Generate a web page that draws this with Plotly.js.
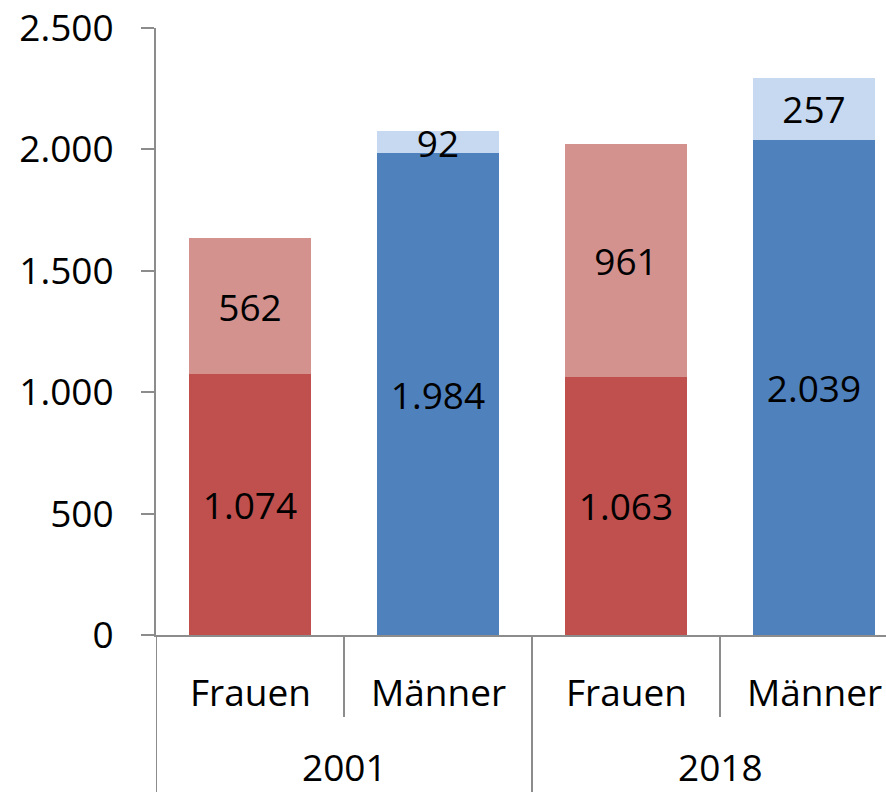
<!DOCTYPE html>
<html>
<head>
<meta charset="utf-8">
<script src="https://cdn.plot.ly/plotly-3.0.1.min.js"></script>
<style>html,body{margin:0;padding:0;background:#fff;}#chart{width:886px;height:792px;}</style>
</head>
<body>
<div id="chart"></div>
<script>
// ---- data ----
const years = ['2001', '2018'];
const groups = ['Frauen', 'Männer'];
const frauenBasis = [1074, 1063];
const frauenZusatz = [562, 961];
const maennerBasis = [1984, 2039];
const maennerZusatz = [92, 257];
const yTicks = [0, 500, 1000, 1500, 2000, 2500];

// category positions: year i, group j -> index 2*i + j
const posF = years.map((y, i) => 2 * i);
const posM = years.map((y, i) => 2 * i + 1);

const FONT = 'Open Sans, Liberation Sans, sans-serif';
const FS = 37;
const grey = '#8c8c8c';

function barTrace(x, y, color) {
  return {
    type: 'bar', x: x, y: y, width: 0.65,
    marker: {color: color, line: {width: 0}},
    texttemplate: '%{y:,.0f}',
    textposition: 'inside', insidetextanchor: 'middle',
    textangle: 0, constraintext: 'none',
    textfont: {family: FONT, size: FS, color: '#000'},
    hoverinfo: 'skip', showlegend: false
  };
}

const traces = [
  barTrace(posF, frauenBasis, '#C0504D'),
  barTrace(posF, frauenZusatz, '#D4928F'),
  barTrace(posM, maennerBasis, '#4F81BD'),
  barTrace(posM, maennerZusatz, '#C6D9F1')
];

const annotations = [];
years.forEach((yr, i) => {
  groups.forEach((g, j) => {
    annotations.push({
      x: 2 * i + j, xref: 'x', y: 0, yref: 'paper',
      yanchor: 'middle', yshift: -56, showarrow: false,
      text: g, font: {family: FONT, size: FS, color: '#000'}
    });
  });
  annotations.push({
    x: 2 * i + 0.5, xref: 'x', y: 0, yref: 'paper',
    yanchor: 'middle', yshift: -131, showarrow: false,
    text: yr, font: {family: FONT, size: FS, color: '#000'}
  });
});

const plotH = 792 - 28 - 157;
const shortY = -(717 - 635) / plotH;
const longY = -(792 - 635) / plotH;
const shapes = [];
for (let k = 0; k <= 2 * years.length; k++) {
  const xb = k - 0.5;
  const outer = (k % 2 === 0);
  shapes.push({
    type: 'line', xref: 'x', yref: 'paper',
    x0: xb, x1: xb, y0: 0, y1: outer ? longY : shortY,
    line: {color: grey, width: 2}, layer: 'above'
  });
}

const layout = {
  width: 886, height: 792,
  margin: {l: 156, r: 0, t: 28, b: 157, pad: 0},
  paper_bgcolor: '#fff', plot_bgcolor: '#fff',
  separators: ',.',
  barmode: 'stack',
  font: {family: FONT, size: FS, color: '#000'},
  xaxis: {
    range: [-0.5, -0.5 + (886 - 156) / 188],
    showgrid: false, zeroline: false, showticklabels: false,
    ticks: '', showline: true, linecolor: grey, linewidth: 2,
    fixedrange: true
  },
  yaxis: {
    range: [0, 2500], tickvals: yTicks,
    tickformat: ',d', separatethousands: true,
    showgrid: false, zeroline: false,
    showline: true, linecolor: grey, linewidth: 2,
    ticks: 'outside', ticklen: 13, tickwidth: 2, tickcolor: grey,
    ticklabelstandoff: 20,
    tickfont: {family: FONT, size: FS, color: '#000'},
    fixedrange: true
  },
  annotations: annotations,
  shapes: shapes
};

Plotly.newPlot('chart', traces, layout, {displayModeBar: false, staticPlot: true});
</script>
</body>
</html>
